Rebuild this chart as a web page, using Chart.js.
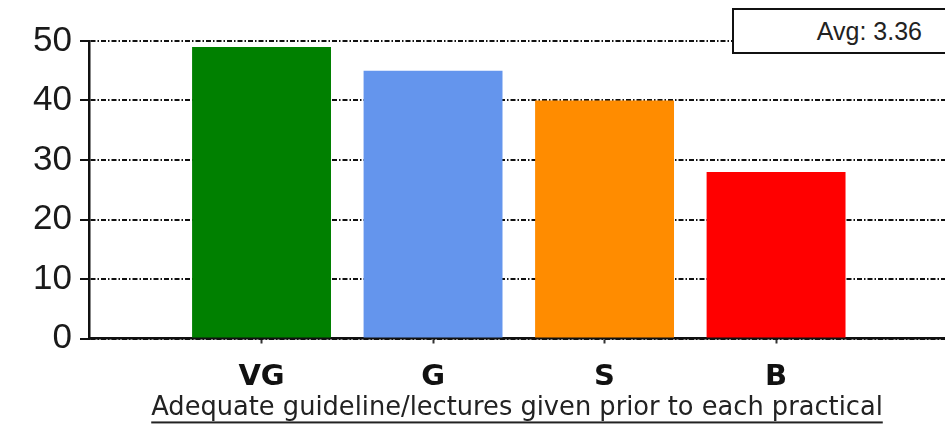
<!DOCTYPE html>
<html>
<head>
<meta charset="utf-8">
<script src="https://cdn.jsdelivr.net/npm/chart.js@4.4.1/dist/chart.umd.min.js"></script>
<style>
  html, body { margin: 0; padding: 0; background: #fff; overflow: hidden; width: 945px; height: 427px; }
  #wrap { position: relative; width: 945px; height: 427px; }
  canvas { position: absolute; left: 0; top: 0; }
  #avgBox { position: absolute; left: 732px; top: 8px; width: 240px; height: 42px; border: 2px solid #111; background: #fff; }
  #avgText { position: absolute; right: 23px; top: 19px; font: 25px "Liberation Sans", Arial, sans-serif; line-height: 25px; color: #222; white-space: nowrap; }
</style>
</head>
<body>
<div id="wrap">
  <canvas id="c" width="945" height="427" style="width:945px;height:427px"></canvas>
  <div id="avgBox"></div>
  <div id="avgText"></div>
</div>
<script>
// ---- data ----
const categories = ["VG", "G", "S", "B"];
const counts = [49, 45, 40, 28];
const barColors = ["#008000", "#6495ED", "#FF8C00", "#FF0000"];
const yTickValues = [0, 10, 20, 30, 40, 50];
const xTitle = "Adequate guideline/lectures given prior to each practical";
const avgLabel = "Avg: 3.36";

document.getElementById('avgText').textContent = avgLabel;

const underlinePlugin = {
  id: 'underlineTitle',
  afterDraw(chart) {
    const s = chart.scales.x;
    const t = s.options.title;
    const ctx = chart.ctx;
    const font = Chart.helpers.toFont(t.font);
    const pad = Chart.helpers.toPadding(t.padding);
    ctx.save();
    ctx.font = font.string;
    const w = ctx.measureText(t.text).width;
    const cx = (s.left + s.right) / 2;
    const cy = s.bottom - pad.bottom - font.lineHeight / 2;
    ctx.fillStyle = t.color;
    ctx.fillRect(cx - w / 2, cy + font.size * 0.5, w, 2);
    ctx.restore();
  }
};

new Chart(document.getElementById('c'), {
  type: 'bar',
  data: {
    datasets: [{
      data: counts.map((v, i) => ({ x: i, y: v })),
      backgroundColor: barColors,
      borderWidth: 0,
      categoryPercentage: 1,
      barPercentage: 0.81
    }]
  },
  options: {
    responsive: false,
    animation: false,
    devicePixelRatio: 1,
    layout: { padding: { top: 41, right: 0, left: 0, bottom: 0 } },
    plugins: { legend: { display: false }, tooltip: { enabled: false } },
    scales: {
      x: {
        type: 'linear',
        offset: false,
        min: -1.006,
        max: 3.985,
        afterBuildTicks: (s) => { s.ticks = categories.map((c, i) => ({ value: i })); },
        afterFit: (s) => { s.height = 88.5; },
        grid: { offset: false, drawOnChartArea: false, drawTicks: true, tickLength: 5, tickColor: '#333', tickWidth: 2 },
        border: { display: true, color: '#111', width: 2.5 },
        ticks: {
          autoSkip: false,
          maxRotation: 0,
          padding: 17,
          color: '#111',
          font: { family: '"DejaVu Sans", sans-serif', size: 29, weight: 'bold' },
          callback: (v) => categories[v]
        },
        title: {
          display: true,
          text: xTitle,
          color: '#222',
          font: { family: '"DejaVu Sans", sans-serif', size: 25.7 },
          padding: { top: 0, bottom: 3 }
        }
      },
      y: {
        min: 0,
        max: 50,
        afterBuildTicks: (s) => { s.ticks = yTickValues.map(v => ({ value: v })); },
        afterFit: (s) => { s.width = 89; },
        grid: {
          color: '#111',
          lineWidth: 2,
          drawTicks: true,
          tickLength: 9,
          tickColor: '#111',
          tickWidth: 2,
          tickBorderDash: []
        },
        border: { display: true, color: '#111', width: 2.5, dash: [5, 2, 1.5, 2] },
        ticks: {
          padding: 8,
          color: '#1a1a1a',
          font: { family: '"Liberation Sans", Arial, sans-serif', size: 35 }
        }
      }
    }
  },
  plugins: [underlinePlugin]
});
</script>
</body>
</html>
